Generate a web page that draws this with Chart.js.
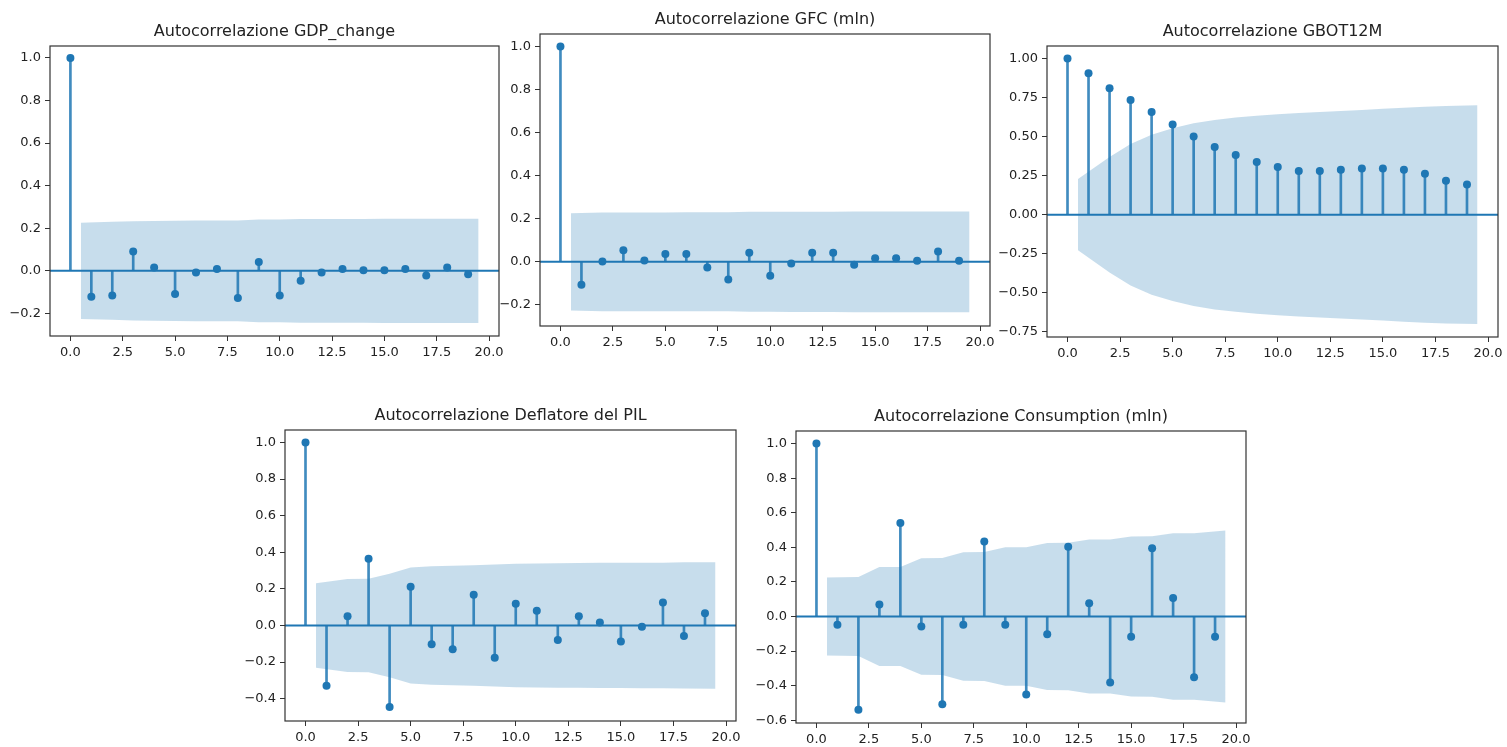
<!DOCTYPE html>
<html><head><meta charset="utf-8">
<script src="https://cdn.jsdelivr.net/npm/chart.js@4.4.1/dist/chart.umd.min.js"></script>
<style>
html,body{margin:0;padding:0;background:#fff;width:1507px;height:747px;overflow:hidden;position:relative}
.w{position:absolute}
canvas{display:block}
</style></head><body>
<script>
// ---------- DATA ----------
const lags = [0,1,2,3,4,5,6,7,8,9,10,11,12,13,14,15,16,17,18,19];
const xTicks = [0,2.5,5,7.5,10,12.5,15,17.5,20];

const titleGDP = 'Autocorrelazione GDP_change';
const acfGDP = [1.0,-0.122,-0.116,0.091,0.016,-0.109,-0.008,0.009,-0.128,0.041,-0.116,-0.047,-0.008,0.009,0.003,0.003,0.009,-0.022,0.016,-0.016];
const bandGDP = [0.226,0.230,0.233,0.234,0.235,0.237,0.237,0.237,0.241,0.241,0.244,0.244,0.244,0.244,0.245,0.245,0.245,0.245,0.245];
const yTicksGDP = [-0.2,0,0.2,0.4,0.6,0.8,1.0];

const titleGFC = 'Autocorrelazione GFC (mln)';
const acfGFC = [1.0,-0.107,0.001,0.054,0.006,0.036,0.036,-0.026,-0.082,0.042,-0.065,-0.008,0.042,0.042,-0.014,0.017,0.017,0.005,0.048,0.005];
const bandGFC = [0.226,0.229,0.229,0.229,0.229,0.230,0.230,0.230,0.232,0.232,0.233,0.233,0.233,0.234,0.234,0.234,0.234,0.234,0.234];
const yTicksGFC = [-0.2,0,0.2,0.4,0.6,0.8,1.0];

const titleGBOT = 'Autocorrelazione GBOT12M';
const acfGBOT = [1.0,0.906,0.810,0.734,0.657,0.578,0.501,0.433,0.382,0.337,0.305,0.280,0.280,0.288,0.296,0.296,0.288,0.262,0.218,0.194];
const bandGBOT = [0.228,0.370,0.453,0.512,0.553,0.585,0.607,0.622,0.634,0.643,0.651,0.658,0.664,0.671,0.678,0.685,0.691,0.696,0.700];
const yTicksGBOT = [-0.75,-0.5,-0.25,0,0.25,0.5,0.75,1.0];

const titleDEF = 'Autocorrelazione Deflatore del PIL';
const acfDEF = [1.0,-0.330,0.051,0.364,-0.446,0.212,-0.103,-0.130,0.168,-0.176,0.118,0.080,-0.080,0.051,0.016,-0.087,-0.007,0.125,-0.058,0.067];
const bandDEF = [0.231,0.254,0.255,0.283,0.317,0.324,0.326,0.329,0.333,0.337,0.339,0.340,0.341,0.342,0.342,0.343,0.343,0.345,0.346];
const yTicksDEF = [-0.4,-0.2,0,0.2,0.4,0.6,0.8,1.0];

const titleCON = 'Autocorrelazione Consumption (mln)';
const acfCON = [1.0,-0.048,-0.539,0.069,0.541,-0.058,-0.507,-0.048,0.434,-0.048,-0.451,-0.102,0.403,0.077,-0.382,-0.117,0.395,0.107,-0.351,-0.117];
const bandCON = [0.226,0.228,0.286,0.287,0.337,0.338,0.372,0.373,0.400,0.401,0.425,0.426,0.445,0.446,0.463,0.464,0.481,0.482,0.497];
const yTicksCON = [-0.6,-0.4,-0.2,0,0.2,0.4,0.6,0.8,1.0];

// ---------- STYLE / LAYOUT ----------
const C0 = '#1f77b4';
const FONT = "'DejaVu Sans', sans-serif";
const YAXW = 60, XAXH = 30, PADT = 40, PADR = 15;

const decor = {
  id: 'decor',
  beforeDatasetsDraw(chart) {
    const {ctx, chartArea: a, scales: {y}} = chart;
    const y0 = y.getPixelForValue(0);
    ctx.save();
    ctx.strokeStyle = C0; ctx.lineWidth = 2;
    ctx.beginPath(); ctx.moveTo(a.left, y0); ctx.lineTo(a.right, y0); ctx.stroke();
    ctx.restore();
  },
  afterDraw(chart) {
    const {ctx, chartArea: a} = chart;
    ctx.save();
    ctx.strokeStyle = '#333'; ctx.lineWidth = 1.2;
    ctx.strokeRect(a.left, a.top, a.right - a.left, a.bottom - a.top);
    ctx.fillStyle = '#222';
    ctx.font = '16px ' + FONT;
    ctx.textAlign = 'center'; ctx.textBaseline = 'middle';
    ctx.fillText(chart.options.plugins.decor.title, (a.left + a.right) / 2, a.top - 14);
    ctx.restore();
  }
};

function fmt(v, d) {
  const s = Math.abs(v).toFixed(d);
  return (v < -1e-9 ? '\u2212' : '') + s;
}

function makeChart(title, acf, band, yTicks, dec, yMin, yMax, box) {
  const wrap = document.createElement('div');
  wrap.className = 'w';
  const cw = YAXW + box.w + PADR, ch = PADT + box.h + XAXH;
  wrap.style.left = (box.L - YAXW) + 'px';
  wrap.style.top = (box.T - PADT) + 'px';
  const cv = document.createElement('canvas');
  cv.width = cw; cv.height = ch;
  cv.style.width = cw + 'px'; cv.style.height = ch + 'px';
  wrap.appendChild(cv);
  document.body.appendChild(wrap);

  const bl = lags.slice(1);
  const bandX = bl.map((k, i) => i === 0 ? k - 0.5 : (i === bl.length - 1 ? k + 0.5 : k));
  const upper = bandX.map((x, i) => ({x, y: band[i]}));
  const lower = bandX.map((x, i) => ({x, y: -band[i]}));
  const pts = lags.map((k, i) => ({x: k, y: acf[i]}));

  const chart = new Chart(cv, {
    type: 'scatter',
    data: {
      datasets: [
        {type: 'line', data: upper, borderWidth: 0, pointRadius: 0, fill: false, borderColor: 'rgba(0,0,0,0)', tension: 0, order: 3},
        {type: 'line', data: lower, borderWidth: 0, pointRadius: 0, fill: '-1', borderColor: 'rgba(0,0,0,0)', backgroundColor: 'rgba(31,119,180,0.25)', tension: 0, order: 3},
        {type: 'bar', data: pts, backgroundColor: 'rgba(31,119,180,0.85)', borderWidth: 0, barThickness: 2, order: 2},
        {type: 'scatter', data: pts, backgroundColor: C0, borderWidth: 0, pointRadius: 4, pointHoverRadius: 4, order: 1}
      ]
    },
    options: {
      responsive: false, maintainAspectRatio: false, animation: false,
      devicePixelRatio: 1,
      layout: {padding: {top: PADT, right: PADR, left: 0, bottom: 0}},
      plugins: {legend: {display: false}, tooltip: {enabled: false}, title: {display: false}, decor: {title}},
      events: [],
      scales: {
        x: {
          type: 'linear', min: -0.975, max: 20.475, offset: false,
          grid: {display: true, offset: false, drawOnChartArea: false, drawTicks: true, tickLength: 5, color: '#333', tickWidth: 1},
          border: {display: false},
          ticks: {font: {family: FONT, size: 13}, color: '#222', padding: 4, maxRotation: 0, autoSkip: false,
                  callback: v => fmt(v, 1)},
          afterBuildTicks: s => { s.ticks = xTicks.map(v => ({value: v})); },
          afterFit: s => { s.height = XAXH; s.paddingLeft = 0; s.paddingRight = 0; s.paddingTop = 0; s.paddingBottom = 0; }
        },
        y: {
          type: 'linear', min: yMin, max: yMax,
          grid: {display: true, drawOnChartArea: false, drawTicks: true, tickLength: 5, color: '#333', tickWidth: 1},
          border: {display: false},
          ticks: {font: {family: FONT, size: 13}, color: '#222', padding: 4, autoSkip: false,
                  callback: v => fmt(v, dec)},
          afterBuildTicks: s => { s.ticks = yTicks.map(v => ({value: v})); },
          afterFit: s => { s.width = YAXW; s.paddingLeft = 0; s.paddingRight = 0; s.paddingTop = 0; s.paddingBottom = 0; }
        }
      }
    },
    plugins: [decor]
  });
  const ca = chart.chartArea;
  wrap.style.left = (box.L - ca.left) + 'px';
  wrap.style.top = (box.T - ca.top) + 'px';
  return chart;
}

makeChart(titleGDP, acfGDP, bandGDP, yTicksGDP, 1, -0.306, 1.056, {L: 50, T: 46, w: 449, h: 290});
makeChart(titleGFC, acfGFC, bandGFC, yTicksGFC, 1, -0.298, 1.058, {L: 540, T: 34, w: 450, h: 292});
makeChart(titleGBOT, acfGBOT, bandGBOT, yTicksGBOT, 2, -0.783, 1.080, {L: 1047, T: 46, w: 451, h: 291});
makeChart(titleDEF, acfDEF, bandDEF, yTicksDEF, 1, -0.522, 1.068, {L: 285, T: 430, w: 451, h: 291});
makeChart(titleCON, acfCON, bandCON, yTicksCON, 1, -0.616, 1.073, {L: 796, T: 431, w: 450, h: 292});
</script>
</body></html>
